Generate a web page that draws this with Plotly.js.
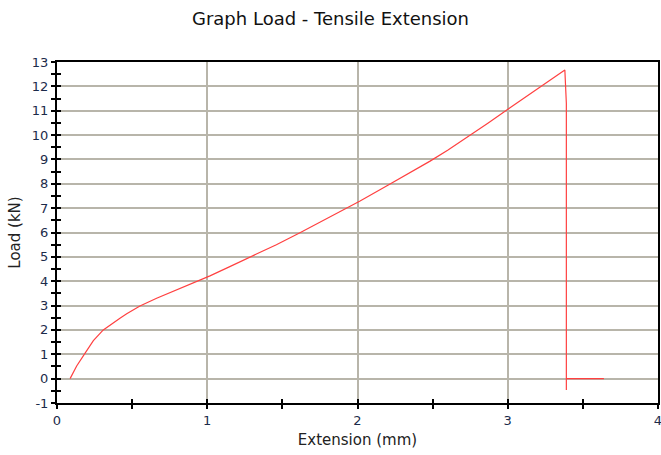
<!DOCTYPE html>
<html>
<head>
<meta charset="utf-8">
<script src="https://cdn.plot.ly/plotly-3.0.1.min.js"></script>
<style>
  html, body { margin: 0; padding: 0; background: #ffffff; }
  #chart { width: 661px; height: 455px; }
</style>
</head>
<body>
<div id="chart"></div>
<script>
// Tensile test record: extension (mm) against load (kN)
const extensionMm = [0.087, 0.131, 0.186, 0.242, 0.308, 0.375, 0.419, 0.464, 0.552, 0.663,
                     0.752, 0.841, 0.93, 1.018, 1.15, 1.307, 1.46, 1.617, 1.77,
                     1.928, 2.017, 2.205, 2.34, 2.483, 2.6, 2.727, 2.87, 3.015,
                     3.1, 3.2, 3.3, 3.38,
                     3.39, 3.39, 3.39, 3.64];
const loadKn =      [0.0, 0.52, 1.04, 1.56, 2.0, 2.3, 2.48, 2.66, 2.98, 3.3,
                     3.53, 3.76, 3.99, 4.22, 4.6, 5.05, 5.5, 5.99, 6.48,
                     7.0, 7.29, 7.95, 8.42, 8.93, 9.38, 9.9, 10.5, 11.12,
                     11.48, 11.9, 12.3, 12.67,
                     11.3, -0.47, 0.0, 0.0];

const xTickVals = [0, 1, 2, 3, 4];
const yTickVals = [-1, 0, 1, 2, 3, 4, 5, 6, 7, 8, 9, 10, 11, 12, 13];

const font = 'DejaVu Sans, Verdana, sans-serif';
const gridColor = '#b8b5aa';
const tickFont = { family: font, size: 13, color: '#1c2b4a' };

const trace = {
  x: extensionMm,
  y: loadKn,
  type: 'scatter',
  mode: 'lines',
  line: { color: '#ff4040', width: 1.2 },
  hoverinfo: 'skip',
  showlegend: false
};

// Transparent copy on the overlay axes so the inside ticks get drawn
const overlay = {
  x: extensionMm, y: loadKn, xaxis: 'x2', yaxis: 'y2',
  type: 'scatter', mode: 'lines', line: { width: 0 }, opacity: 0,
  hoverinfo: 'skip', showlegend: false
};

const baseAxis = {
  showline: true, linecolor: '#000000', linewidth: 2, mirror: true,
  zeroline: false, ticklen: 4, tickwidth: 2, tickcolor: '#000000',
  ticks: 'outside', tickfont: tickFont, ticklabeloverflow: 'allow'
};

const layout = {
  width: 661, height: 455,
  margin: { l: 57, r: 3, t: 62, b: 52 },
  paper_bgcolor: '#ffffff', plot_bgcolor: '#ffffff',
  title: {
    text: 'Graph Load - Tensile Extension',
    font: { family: font, size: 18, color: '#111111' },
    x: 0.5, xanchor: 'center', y: 0.96, yanchor: 'middle'
  },
  xaxis: Object.assign({}, baseAxis, {
    range: [0, 4], tickvals: xTickVals, ticktext: xTickVals.map(String),
    showgrid: true, gridcolor: gridColor, gridwidth: 2,
    minor: { dtick: 0.5, ticks: 'outside', ticklen: 4, tickwidth: 2, tickcolor: '#000000', showgrid: false },
    title: { text: 'Extension (mm)', font: { family: font, size: 15, color: '#222222' }, standoff: 8 }
  }),
  yaxis: Object.assign({}, baseAxis, {
    range: [-1, 13], tickvals: yTickVals, ticktext: yTickVals.map(String),
    showgrid: true, gridcolor: gridColor, gridwidth: 2,
    minor: { dtick: 0.5, ticks: 'outside', ticklen: 4, tickwidth: 2, tickcolor: '#000000', showgrid: false },
    title: { text: 'Load (kN)', font: { family: font, size: 15, color: '#222222' }, standoff: 8 }
  }),
  xaxis2: {
    overlaying: 'x', anchor: 'y', side: 'bottom', range: [0, 4],
    showgrid: false, zeroline: false, showline: false, showticklabels: false,
    tickvals: xTickVals, ticks: 'inside', ticklen: 4, tickwidth: 2, tickcolor: '#000000',
    minor: { dtick: 0.5, ticks: 'inside', ticklen: 4, tickwidth: 2, tickcolor: '#000000', showgrid: false }
  },
  yaxis2: {
    overlaying: 'y', anchor: 'x', side: 'left', range: [-1, 13],
    showgrid: false, zeroline: false, showline: false, showticklabels: false,
    tickvals: yTickVals, ticks: 'inside', ticklen: 4, tickwidth: 2, tickcolor: '#000000',
    minor: { dtick: 0.5, ticks: 'inside', ticklen: 4, tickwidth: 2, tickcolor: '#000000', showgrid: false }
  }
};

Plotly.newPlot('chart', [trace, overlay], layout, { staticPlot: true, displayModeBar: false });
</script>
</body>
</html>
